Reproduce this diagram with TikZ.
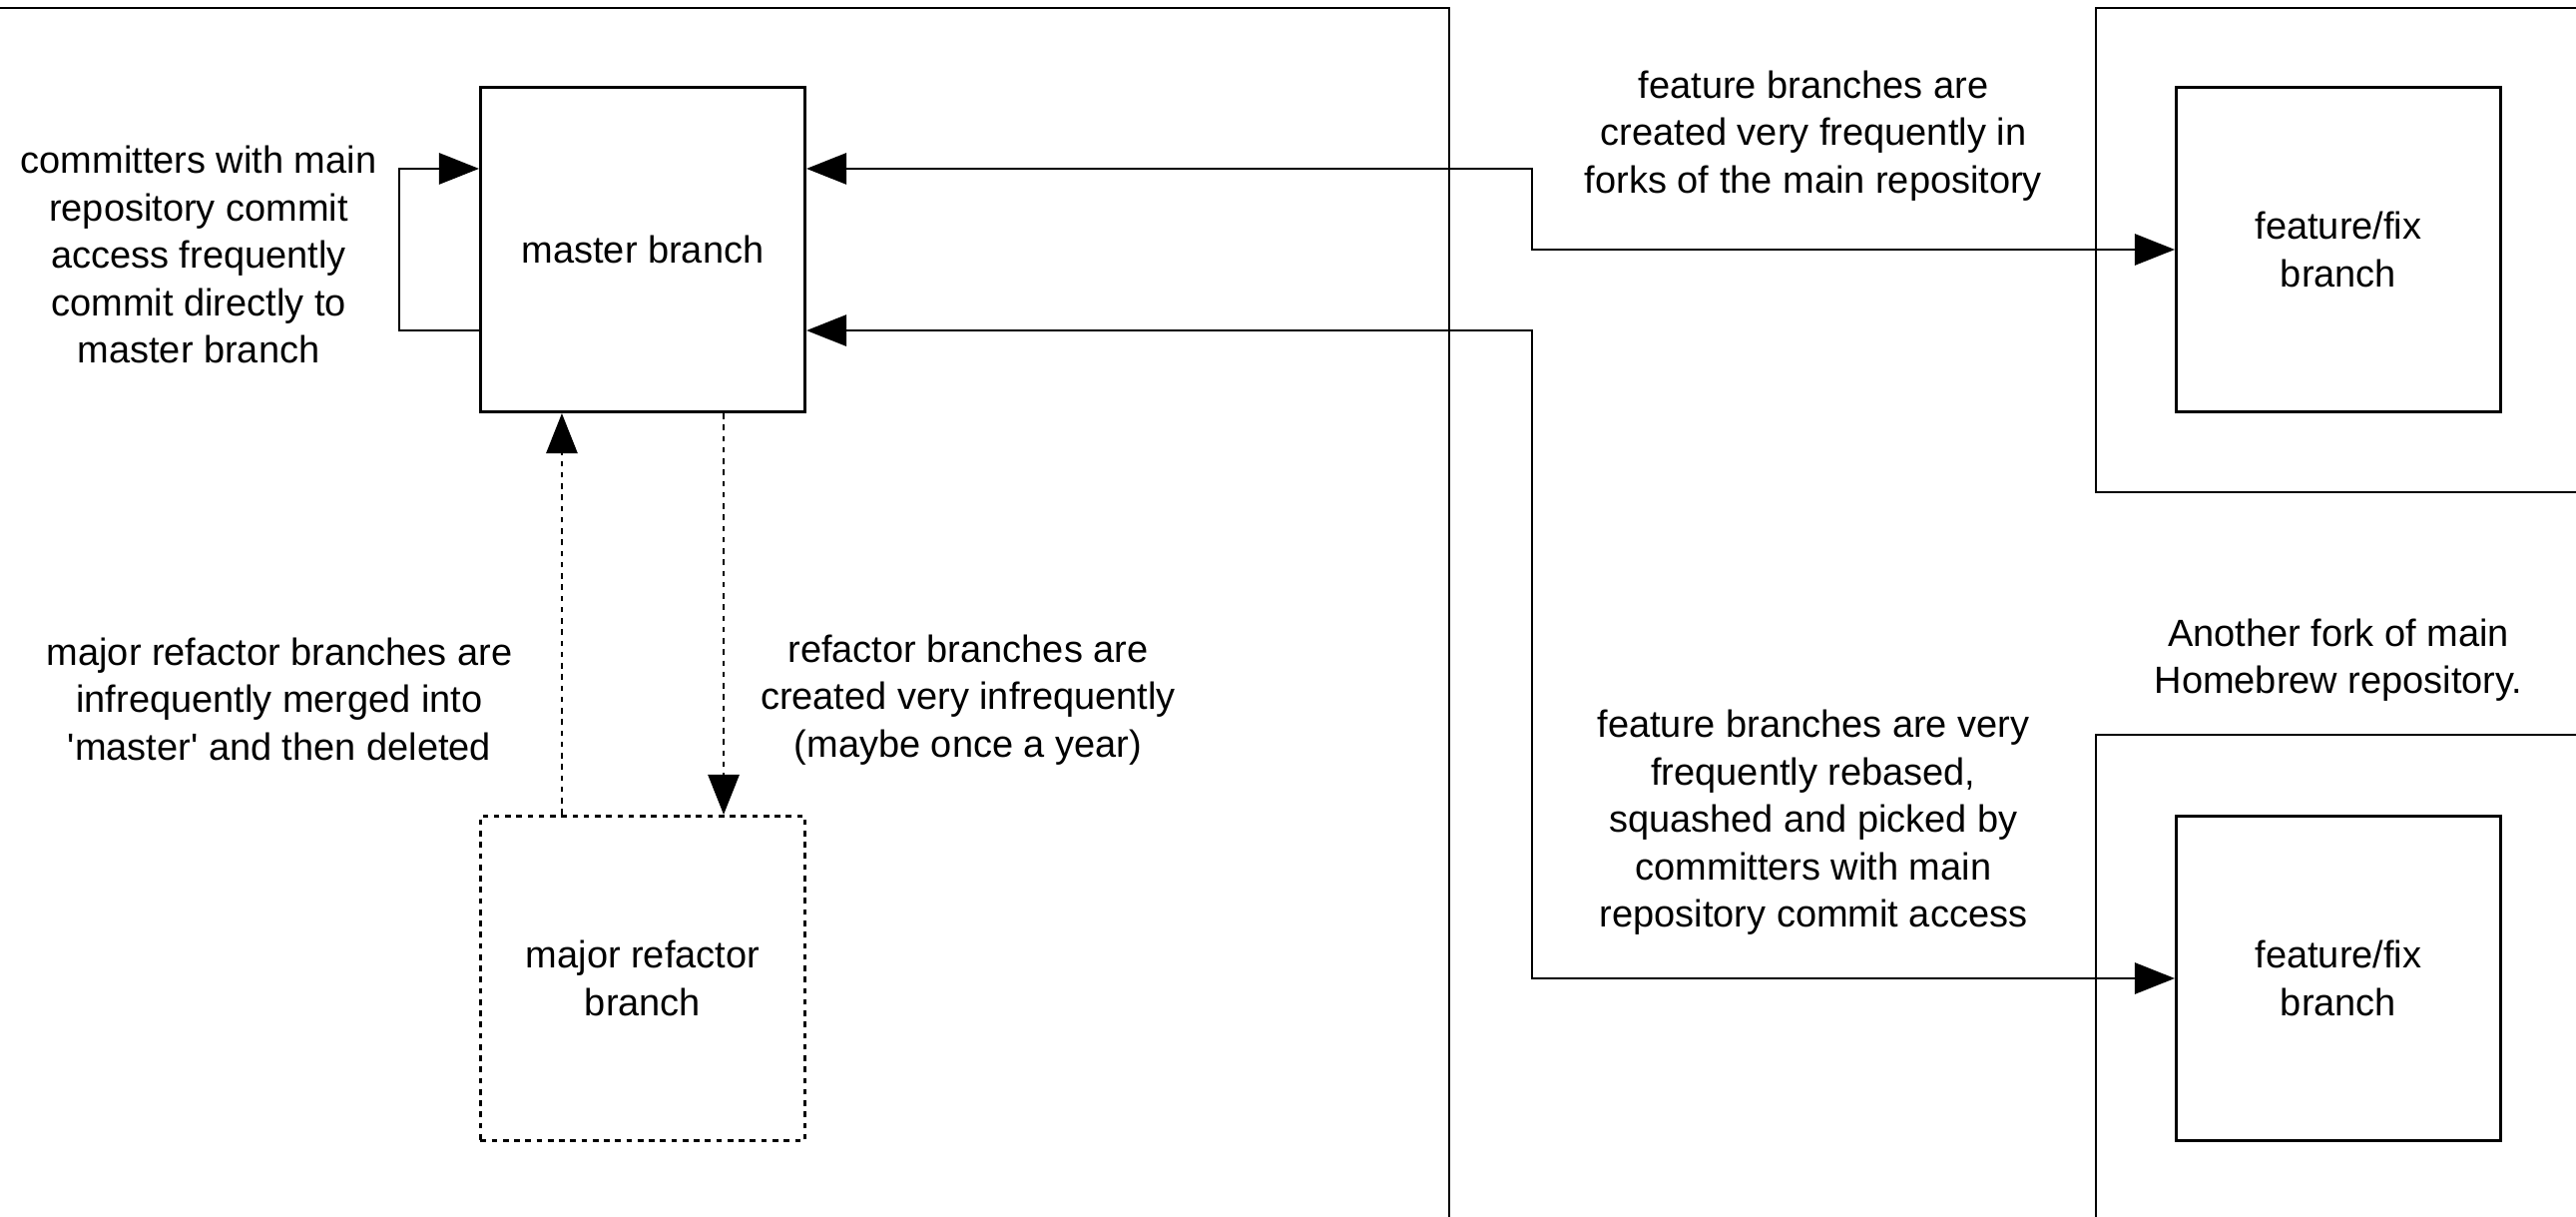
\documentclass[tikz,border=0pt]{standalone}
\usepackage{fontspec}
\setmainfont{Liberation Sans}
\usetikzlibrary{arrows.meta}

\tikzset{
  txt/.style={font=\fontsize{10.8}{13.5}\selectfont, align=center},
  branch/.style={txt, draw, minimum width=3.25cm, minimum height=3.25cm, inner sep=0pt},
  dotline/.style={dash pattern=on 1.6pt off 1.6pt},
}

\begin{document}
\begin{tikzpicture}[x=0.01cm, y=-0.01cm, line width=0.8pt, >={Triangle[length=0.4cm,width=0.31cm]}]
  \useasboundingbox (0,0) rectangle (2581,1219);
	% repositories (run off the page)
	\draw (-20,8) rectangle (1452,1260);
	\draw (2100,8) rectangle (2620,493);
	\draw (2100,736) rectangle (2620,1260);
	% branches
	\node[branch] (master) at (644,250) {master branch};
	\node[branch, dotline] (refactor) at (644,980) {major refactor\\branch};
	\node[branch] (fix1) at (2343,250) {feature/fix\\branch};
	\node[branch] (fix2) at (2343,980) {feature/fix\\branch};
	% notes
	\node[txt] (selfnote) at (199,255) {committers with main\\repository commit\\access frequently\\commit directly to\\master branch};
	\node[txt] (forknote) at (1817,136) {feature branches are\\created very frequently in\\forks of the main repository};
	\node[txt] (mergenote) at (280,700) {major refactor branches are\\infrequently merged into\\\textquotesingle master\textquotesingle{} and then deleted};
	\node[txt] (createnote) at (970,701) {refactor branches are\\created very infrequently\\(maybe once a year)};
	\node[txt] (forklabel) at (2343,661) {Another fork of main\\Homebrew repository.};
	\node[txt] (picknote) at (1817,824) {feature branches are very\\frequently rebased,\\squashed and picked by\\committers with main\\repository commit access};
	% commits straight to master
	\draw[->] ([yshift=-0.81cm]master.west) -- ++(-80,0) |- ([yshift=0.81cm]master.west);
	% feature branches in forks
	\draw[<->] ([yshift=0.81cm]master.east) -- ++(727,0) |- (fix1.west);
	\draw[<->] ([yshift=-0.81cm]master.east) -- ++(727,0) |- (fix2.west);
	% refactor branch
	\draw[->, dotline] ([xshift=-0.81cm]refactor.north) -- ([xshift=-0.81cm]master.south);
	\draw[->, dotline] ([xshift=0.81cm]master.south) -- ([xshift=0.81cm]refactor.north);
\end{tikzpicture}
\end{document}
